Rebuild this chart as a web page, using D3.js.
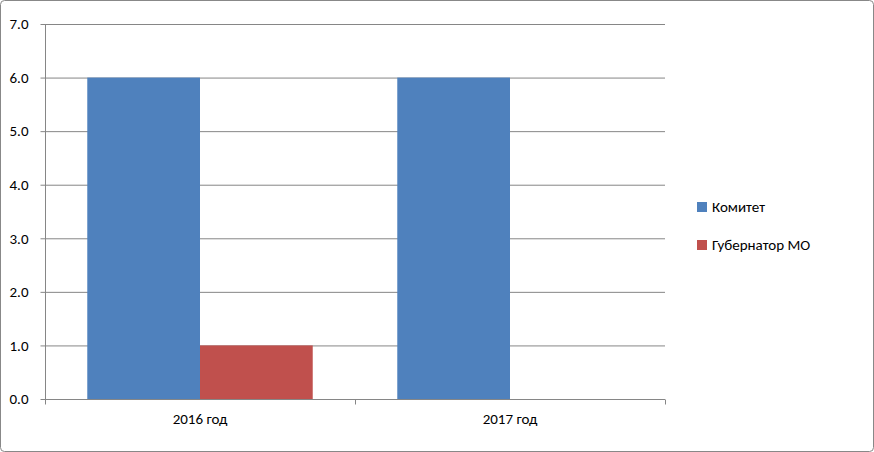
<!DOCTYPE html>
<html>
<head>
<meta charset="utf-8">
<script src="https://cdn.jsdelivr.net/npm/d3@7"></script>
<style>
  body { margin: 0; background: #fff; font-family: Carlito, Calibri, "Liberation Sans", Arial, sans-serif; }
</style>
</head>
<body>
<div id="chart"></div>
<script>
const categories = ["2016 год", "2017 год"];
const seriesNames = ["Комитет", "Губернатор МО"];
const komitet = [6, 6];
const gubernator = [1, 0];
const yTicks = [0, 1, 2, 3, 4, 5, 6, 7];
const colors = ["#4F81BD", "#C0504D"];

const width = 874, height = 452;
const plotLeft = 45, plotRight = 665, plotTop = 24, plotBottom = 399;
const font = "Carlito, Calibri, 'Liberation Sans', sans-serif";

const svg = d3.select("#chart").append("svg")
  .attr("width", width).attr("height", height);

svg.append("rect").attr("x", 0.5).attr("y", 0.5).attr("width", width - 1).attr("height", height - 1)
  .attr("rx", 4).attr("fill", "#fff").attr("stroke", "#888");

const x0 = d3.scaleBand().domain(categories).range([plotLeft, plotRight]);
const x1 = d3.scaleBand().domain(seriesNames).range([0, x0.bandwidth()]).paddingInner(0).paddingOuter(0.375);
const y = d3.scaleLinear().domain([0, 7]).range([plotBottom, plotTop]);

// gridlines
svg.append("g").selectAll("line").data(yTicks.filter(d => d > 0)).join("line")
  .attr("x1", plotLeft).attr("x2", plotRight)
  .attr("y1", d => y(d) + 0.5).attr("y2", d => y(d) + 0.5)
  .attr("stroke", "#868686");

const values = [komitet, gubernator];
const g = svg.append("g");
categories.forEach((c, i) => {
  seriesNames.forEach((s, j) => {
    g.append("rect")
      .attr("x", x0(c) + x1(s)).attr("width", x1.bandwidth())
      .attr("y", y(values[j][i])).attr("height", y(0) - y(values[j][i]))
      .attr("fill", colors[j]);
  });
});

// y axis
const ya = svg.append("g").attr("transform", `translate(${plotLeft + 0.5},0)`)
  .call(d3.axisLeft(y).tickValues(yTicks).tickSize(5).tickPadding(12));
ya.select(".domain").attr("stroke", "#868686").attr("d", `M0,${plotTop}V${plotBottom}`);
ya.selectAll(".tick line").attr("stroke", "#868686");
ya.selectAll("text").attr("font-size", 15).attr("font-family", font).attr("fill", "#000");

// x axis
const xa = svg.append("g").attr("transform", `translate(0,${plotBottom + 0.5})`)
  .call(d3.axisBottom(x0).tickSize(0).tickPadding(14));
xa.select(".domain").attr("stroke", "#868686").attr("d", `M${plotLeft},0H${plotRight}`);
xa.selectAll("text").attr("font-size", 15).attr("font-family", font).attr("fill", "#000");
xa.selectAll(".tickmark").data([plotLeft, (plotLeft + plotRight) / 2, plotRight]).join("line")
  .attr("class", "tickmark")
  .attr("x1", d => d + 0.5).attr("x2", d => d + 0.5).attr("y1", 0).attr("y2", 5).attr("stroke", "#868686");

// legend
const lg = svg.append("g").selectAll("g").data(seriesNames).join("g")
  .attr("transform", (d, i) => `translate(697,${207 + i * 38})`);
lg.append("rect").attr("x", 0).attr("y", -5).attr("width", 10).attr("height", 10).attr("fill", (d, i) => colors[i]);
lg.append("text").attr("x", 15).attr("y", 5).attr("font-size", 15).attr("font-family", font).attr("fill", "#000").text(d => d);
</script>
</body>
</html>
